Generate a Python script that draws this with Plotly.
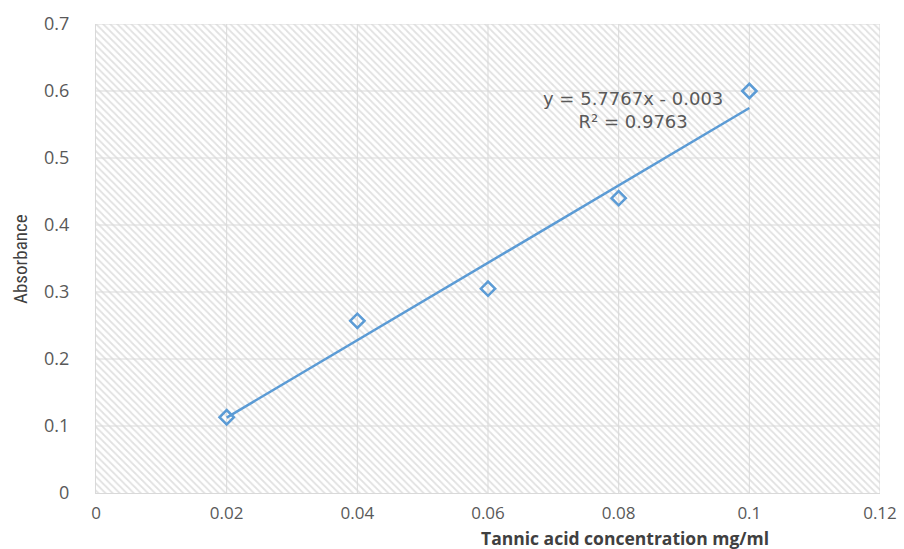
import plotly.graph_objects as go

conc = [0.02, 0.04, 0.06, 0.08, 0.1]
absorb = [0.113, 0.257, 0.305, 0.44, 0.6]
slope = 5.7767
intercept = -0.003
r2 = 0.9763
x_ticks = [0, 0.02, 0.04, 0.06, 0.08, 0.1, 0.12]
x_tick_labels = ["0", "0.02", "0.04", "0.06", "0.08", "0.1", "0.12"]
y_ticks = [0, 0.1, 0.2, 0.3, 0.4, 0.5, 0.6, 0.7]
y_tick_labels = ["0", "0.1", "0.2", "0.3", "0.4", "0.5", "0.6", "0.7"]

blue = "#5b9bd5"
font_family = "Open Sans, DejaVu Sans, sans-serif"

L, R, T, B = 96, 24, 24, 56
PW, PH = 904 - L - R, 549 - T - B


def px(xp):
    return (xp - L) / PW


def py(yp):
    return (549 - B - yp) / PH


fig = go.Figure()

# hatched plot background
fig.add_trace(go.Scatter(
    x=[0, 0.12, 0.12, 0, 0], y=[0, 0, 0.7, 0.7, 0],
    mode="lines", line=dict(width=0), fill="toself",
    fillcolor="rgba(255,255,255,0)",
    fillpattern=dict(shape="\\", fgcolor="#c4c4c4", bgcolor="white", size=5, solidity=0.35),
    hoverinfo="skip", showlegend=False,
))

# gridlines drawn above the hatch
for xv in x_ticks[1:-1]:
    fig.add_trace(go.Scatter(x=[xv, xv], y=[0, 0.7], mode="lines",
                             line=dict(color="#d9d9d9", width=1), hoverinfo="skip", showlegend=False))
for yv in y_ticks[1:-1]:
    fig.add_trace(go.Scatter(x=[0, 0.12], y=[yv, yv], mode="lines",
                             line=dict(color="#d9d9d9", width=1), hoverinfo="skip", showlegend=False))

# trendline
tx = [conc[0], conc[-1]]
ty = [slope * v + intercept for v in tx]
fig.add_trace(go.Scatter(x=tx, y=ty, mode="lines",
                         line=dict(color=blue, width=2.5), showlegend=False))

# data markers
fig.add_trace(go.Scatter(x=conc, y=absorb, mode="markers",
                         marker=dict(symbol="diamond-open", size=11, color=blue,
                                     line=dict(width=2.5, color=blue)),
                         showlegend=False))

fig.add_annotation(text=f"y = {slope}x - {abs(intercept)}<br>R² = {r2}",
                   showarrow=False, align="center",
                   xref="paper", yref="paper", x=px(633), y=py(110),
                   xanchor="center", yanchor="middle",
                   font=dict(family="DejaVu Sans, Open Sans, sans-serif", size=18, color="#595959"))

# axis titles as annotations to match placement
fig.add_annotation(text="<b>Tannic acid concentration mg/ml</b>", showarrow=False,
                   xref="paper", yref="paper", x=px(625), y=py(537.5), borderpad=0,
                   xanchor="center", yanchor="middle",
                   font=dict(family=font_family, size=17.5, color="#404040"))
fig.add_annotation(text="Absorbance", showarrow=False, textangle=-90,
                   xref="paper", yref="paper", x=px(20), y=py(259),
                   xanchor="center", yanchor="middle",
                   font=dict(family="Liberation Sans Narrow, Roboto Condensed, Open Sans, sans-serif",
                             size=19, color="#404040"))

fig.update_layout(
    width=904, height=549,
    margin=dict(l=L, r=R, t=T, b=B, autoexpand=False),
    plot_bgcolor="white", paper_bgcolor="white",
    font=dict(family=font_family, color="#595959"),
    xaxis=dict(range=[0, 0.12], tickvals=x_ticks, ticktext=x_tick_labels,
               showgrid=False, zeroline=False, showline=True, linecolor="#d9d9d9",
               tickfont=dict(size=17, color="#595959"), ticks="outside", ticklen=5, tickcolor="white"),
    yaxis=dict(range=[0, 0.7], tickvals=y_ticks, ticktext=y_tick_labels,
               showgrid=False, zeroline=False, showline=True, linecolor="#d9d9d9",
               tickfont=dict(size=18, color="#595959"), ticks="outside", ticklen=22, tickcolor="white"),
)
fig.add_shape(type="line", xref="x", yref="y", x0=0.12, x1=0.12, y0=0, y1=0.7,
              line=dict(color="#d9d9d9", width=1))
fig.add_shape(type="line", xref="x", yref="y", x0=0, x1=0.12, y0=0.7, y1=0.7,
              line=dict(color="#d9d9d9", width=1))

fig.write_html("out.html")
